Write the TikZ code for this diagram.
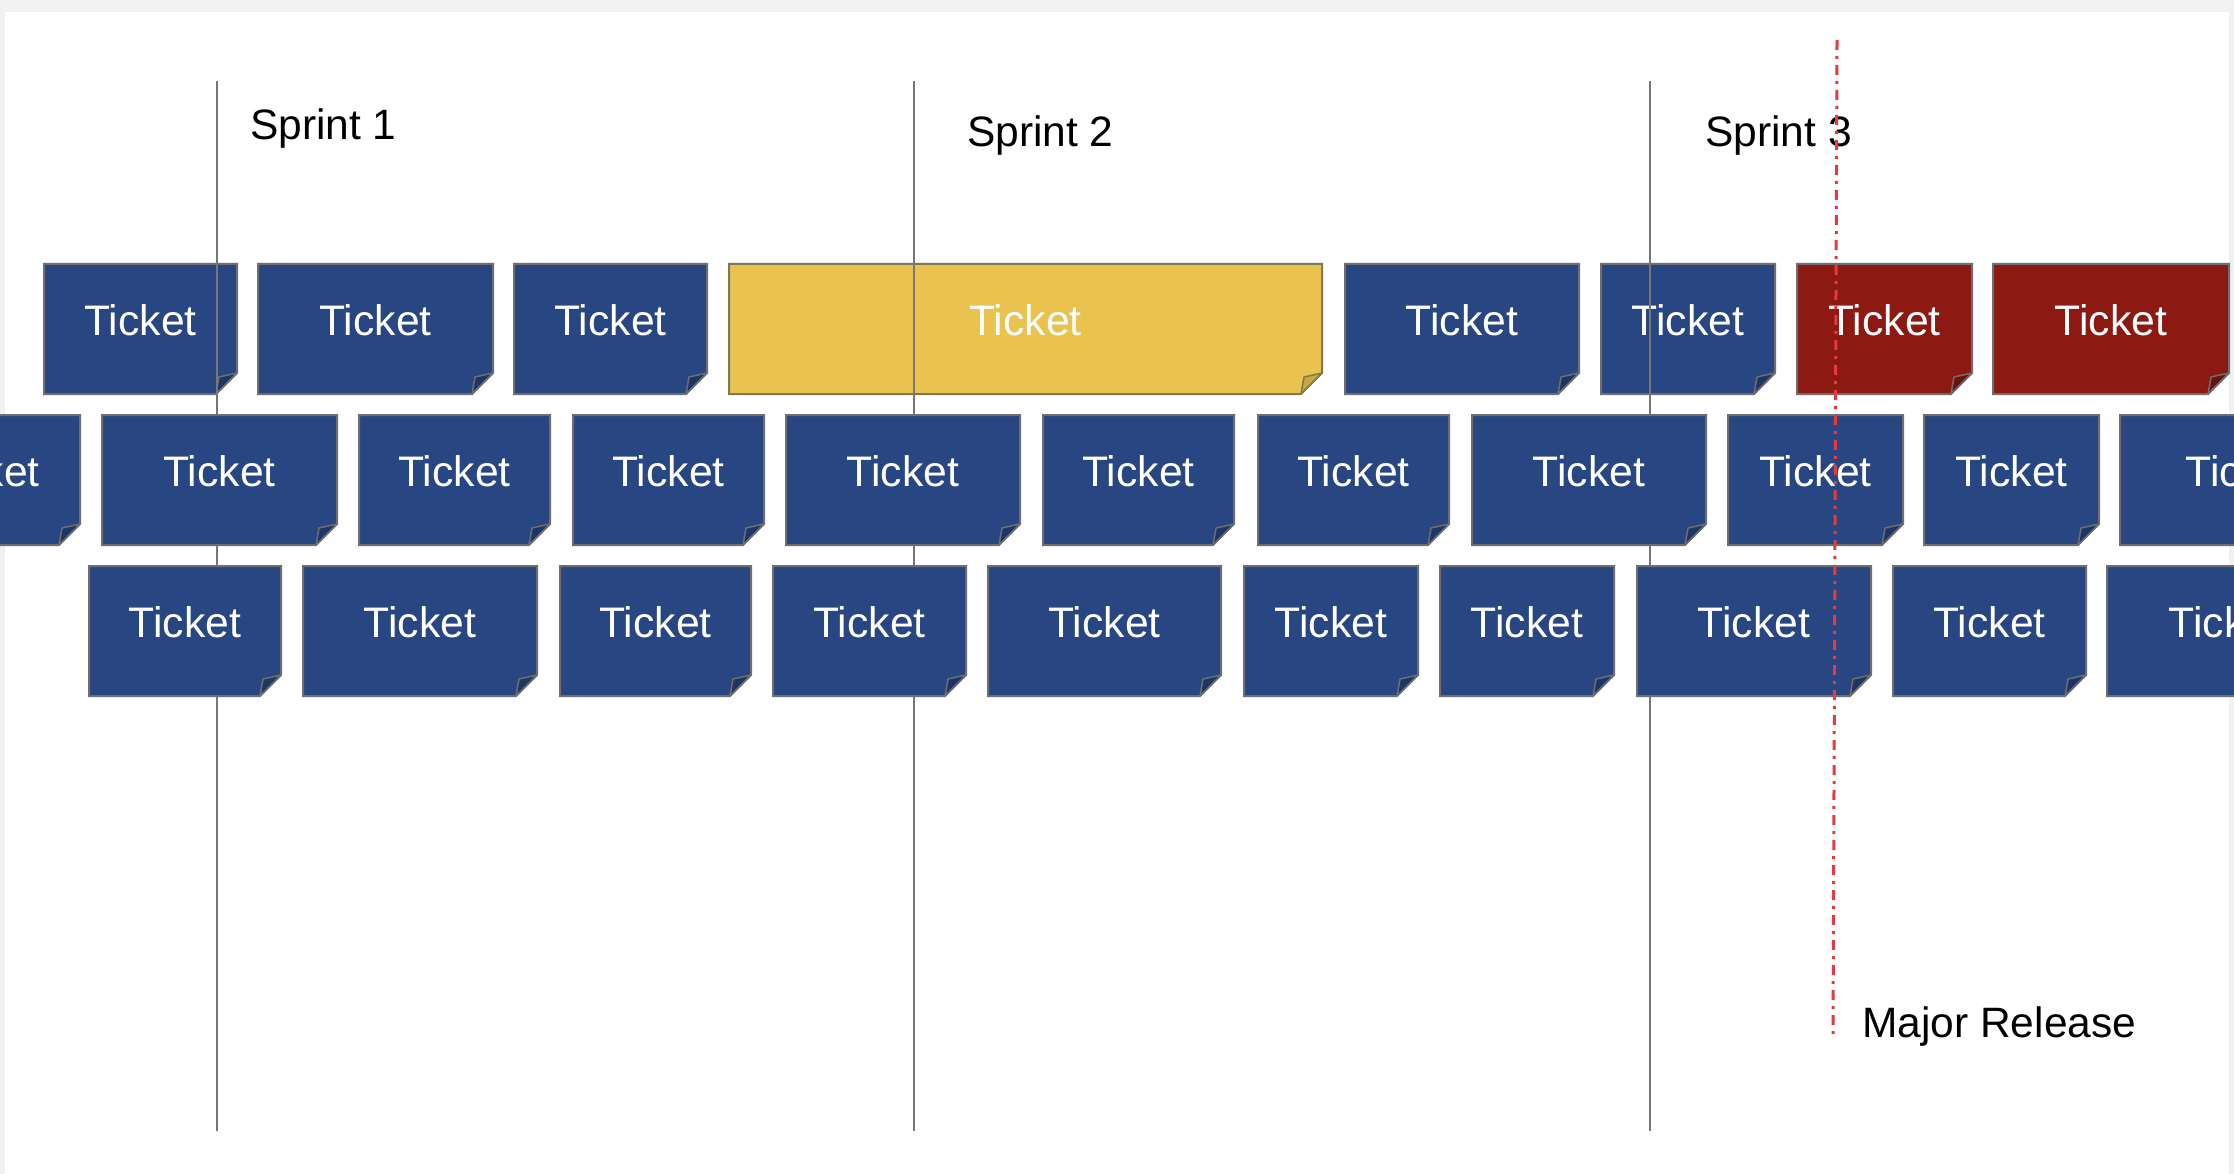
\documentclass[tikz,border=0pt]{standalone}
\usepackage{fontspec}
\setmainfont{Liberation Sans}
\definecolor{tblue}{HTML}{284682}
\definecolor{tblueflap}{HTML}{1D3668}
\definecolor{tred}{HTML}{8C1A13}
\definecolor{tredflap}{HTML}{6A130E}
\definecolor{tyellow}{HTML}{E9C250}
\definecolor{tyellowflap}{HTML}{CDA63E}
\definecolor{tborder}{HTML}{6E6E6E}
\definecolor{yborder}{HTML}{7F7856}
\definecolor{sprintline}{HTML}{777777}
\definecolor{releasered}{HTML}{E53A3F}
\definecolor{edgegray}{HTML}{F1F1F1}
\newcommand{\tkt}[5]{%
  \path[#5 body] (#2,#4) -- (#3,#4) -- (#3,#4+109) -- (#3-21,#4+130) -- (#2,#4+130) -- cycle;
  \path[#5 flap] (#3,#4+109) -- (#3-18,#4+113) -- (#3-21,#4+130) -- cycle;
  \node[tkttext,anchor=base] (#1) at ({(#2+#3)/2},#4+71) {Ticket};}
\begin{document}
\begin{tikzpicture}[x=1pt,y=-1pt,
  blue body/.style={fill=tblue,draw=tborder,line width=2pt},
  blue flap/.style={fill=tblueflap,draw=tborder,line width=1.5pt,line join=round},
  red body/.style={fill=tred,draw=tborder,line width=2pt},
  red flap/.style={fill=tredflap,draw=tborder,line width=1.5pt,line join=round},
  yellow body/.style={fill=tyellow,draw=yborder,line width=2pt},
  yellow flap/.style={fill=tyellowflap,draw=yborder,line width=1.5pt,line join=round},
  tkttext/.style={text=white,inner sep=0pt,font=\fontsize{42.7pt}{50pt}\selectfont},
  label/.style={text=black,inner sep=0pt,anchor=base west,font=\fontsize{42.5pt}{50pt}\selectfont},
  sprint/.style={draw=sprintline,line width=2.6pt},
  release/.style={draw=releasered,line width=3pt,dash pattern=on 10pt off 6pt on 3pt off 6pt}]
\useasboundingbox (0,0) rectangle (2234,1174);
\clip (0,0) rectangle (2234,1174);
% background
\fill[edgegray] (0,0) rectangle (2234,1174);
\fill[white] (5,12) rectangle (2229,1174);
% row 1
\tkt{r1a}{44}{237}{264}{blue}
\tkt{r1b}{258}{493}{264}{blue}
\tkt{r1c}{514}{707}{264}{blue}
\tkt{r1d}{729}{1322}{264}{yellow}
\tkt{r1e}{1345}{1579}{264}{blue}
\tkt{r1f}{1601}{1775}{264}{blue}
\tkt{r1g}{1797}{1972}{264}{red}
\tkt{r1h}{1993}{2229}{264}{red}
% sprint lines
\coordinate (s1top) at (217,81);  \coordinate (s1bot) at (217,1131);
\coordinate (s2top) at (914,81);  \coordinate (s2bot) at (914,1131);
\coordinate (s3top) at (1650,81); \coordinate (s3bot) at (1650,1131);
\draw[sprint] (s1top) -- (s1bot);
\draw[sprint] (s2top) -- (s2bot);
\draw[sprint] (s3top) -- (s3bot);
% row 2
\tkt{r2a}{-113}{80}{415}{blue}
\tkt{r2b}{102}{337}{415}{blue}
\tkt{r2c}{359}{550}{415}{blue}
\tkt{r2d}{573}{764}{415}{blue}
\tkt{r2e}{786}{1020}{415}{blue}
\tkt{r2f}{1043}{1234}{415}{blue}
\tkt{r2g}{1258}{1449}{415}{blue}
\tkt{r2h}{1472}{1706}{415}{blue}
\tkt{r2i}{1728}{1903}{415}{blue}
\tkt{r2j}{1924}{2099}{415}{blue}
\tkt{r2k}{2120}{2364}{415}{blue}
% row 3
\tkt{r3a}{89}{281}{566}{blue}
\tkt{r3b}{303}{537}{566}{blue}
\tkt{r3c}{560}{751}{566}{blue}
\tkt{r3d}{773}{966}{566}{blue}
\tkt{r3e}{988}{1221}{566}{blue}
\tkt{r3f}{1244}{1418}{566}{blue}
\tkt{r3g}{1440}{1614}{566}{blue}
\tkt{r3h}{1637}{1871}{566}{blue}
\tkt{r3i}{1893}{2086}{566}{blue}
\tkt{r3j}{2107}{2343}{566}{blue}
% labels
\node[label] (sp1) at (250,140) {Sprint 1};
\node[label] (sp2) at (967,147) {Sprint 2};
\node[label] (sp3) at (1705,147) {Sprint 3};
% release line
\coordinate (reltop) at (1837,40);
\coordinate (relbot) at (1833,1035);
\draw[release] (reltop) -- (relbot);
\node[label] (major) at (1862,1037) {Major Release};
\end{tikzpicture}
\end{document}
